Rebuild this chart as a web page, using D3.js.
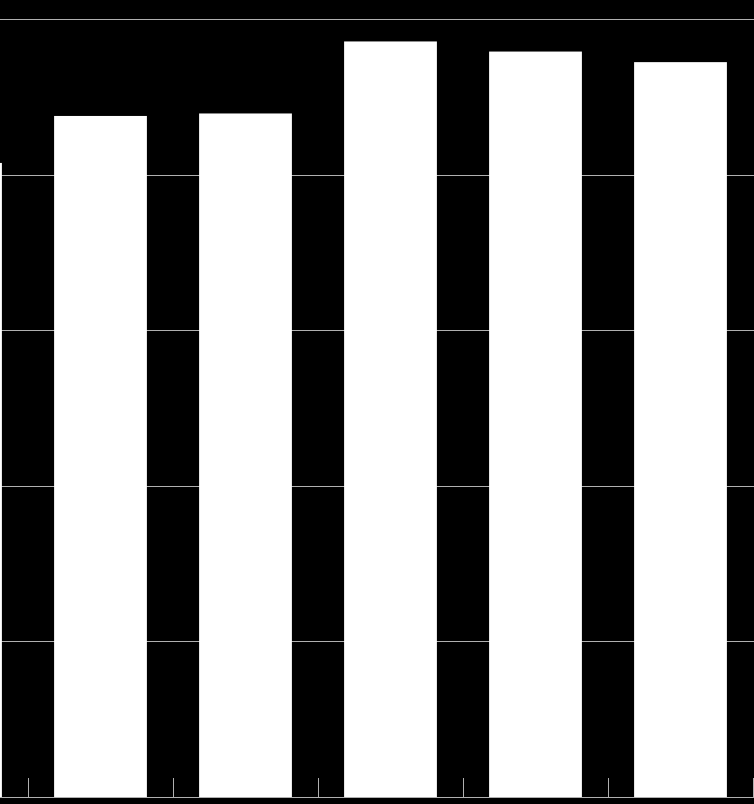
<!DOCTYPE html>
<html>
<head>
<meta charset="utf-8">
<script src="https://cdn.jsdelivr.net/npm/d3@7"></script>
<style>
  html, body { margin: 0; padding: 0; background: #000; }
  svg { display: block; }
</style>
</head>
<body>
<svg id="chart" width="754" height="804"></svg>
<script>
// Data (axis labels are cropped out of view)
const categories = ["C0", "C1", "C2", "C3", "C4", "C5"];
const values = [40.76, 43.78, 43.94, 48.57, 47.92, 47.24];
const gridTicks = [0, 10, 20, 30, 40, 50];

const W = 754, H = 804;
const svg = d3.select("#chart");
svg.append("rect").attr("width", W).attr("height", H).attr("fill", "#000");

const y = d3.scaleLinear().domain([0, 50]).range([797, 19.2]);
const x = d3.scaleBand().domain(categories).range([-117, 753])
  .paddingInner(0.36).paddingOuter(0.18);

// gridlines
svg.append("g")
  .selectAll("line")
  .data(gridTicks)
  .join("line")
  .attr("x1", 0).attr("x2", W)
  .attr("y1", d => Math.round(y(d)) + 0.5)
  .attr("y2", d => Math.round(y(d)) + 0.5)
  .attr("stroke", "#b0b0b0")
  .attr("stroke-width", 1);

// bars
svg.append("g")
  .selectAll("rect")
  .data(categories)
  .join("rect")
  .attr("x", d => x(d))
  .attr("width", x.bandwidth())
  .attr("y", (d, i) => y(values[i]))
  .attr("height", (d, i) => y(0) - y(values[i]))
  .attr("fill", "#fff");

// band boundary ticks (pointing up from the baseline)
const half = x.step() * x.paddingInner() / 2;
const bounds = categories.map(d => x(d) + x.bandwidth() + half);
svg.append("g")
  .selectAll("line")
  .data(bounds)
  .join("line")
  .attr("x1", d => Math.round(d) + 0.5)
  .attr("x2", d => Math.round(d) + 0.5)
  .attr("y1", y(0))
  .attr("y2", y(0) - 19)
  .attr("stroke", "#b0b0b0")
  .attr("stroke-width", 1);
</script>
</body>
</html>
